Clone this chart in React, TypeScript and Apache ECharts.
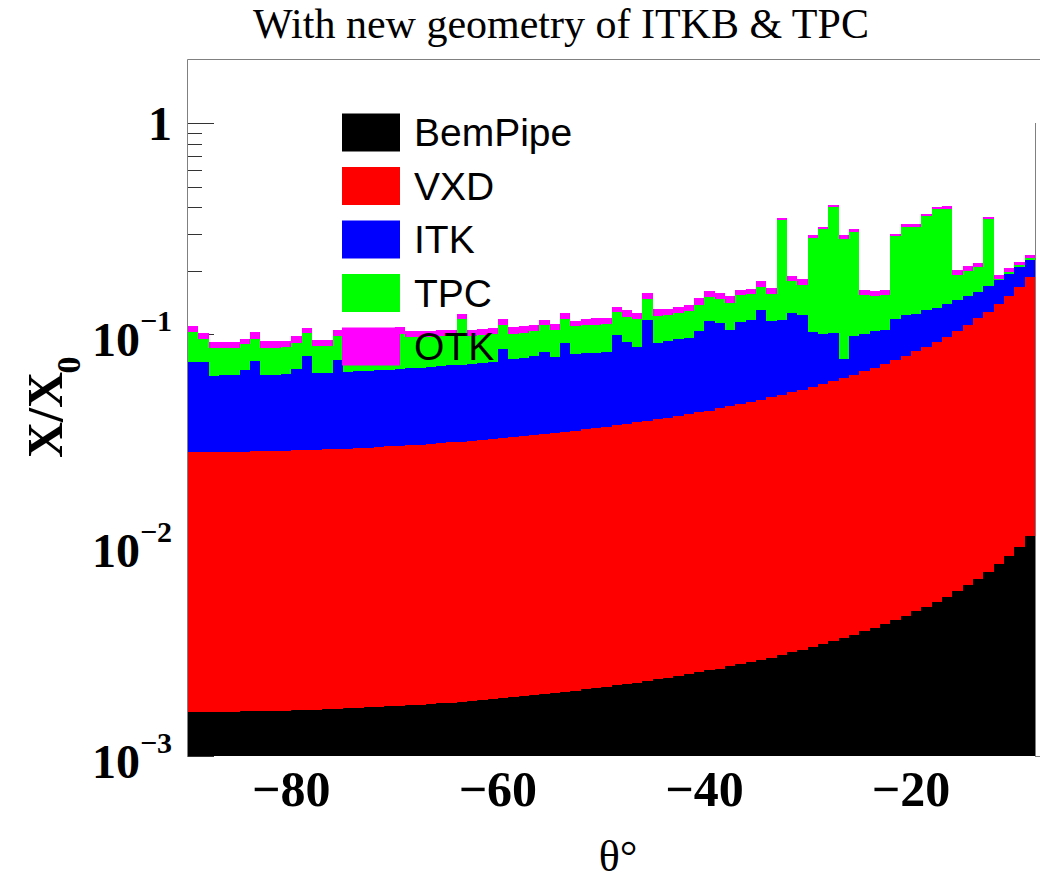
import React, { useEffect, useRef } from 'react';
import * as echarts from 'echarts';

// Histogram bins: lower edges in degrees (bin width 1 degree)
const binLow = [
  -90, -89, -88, -87, -86, -85, -84, -83, -82, -81,
  -80, -79, -78, -77, -76, -75, -74, -73, -72, -71,
  -70, -69, -68, -67, -66, -65, -64, -63, -62, -61,
  -60, -59, -58, -57, -56, -55, -54, -53, -52, -51,
  -50, -49, -48, -47, -46, -45, -44, -43, -42, -41,
  -40, -39, -38, -37, -36, -35, -34, -33, -32, -31,
  -30, -29, -28, -27, -26, -25, -24, -23, -22, -21,
  -20, -19, -18, -17, -16, -15, -14, -13, -12, -11,
  -10, -9,
];
const binWidth = 1;

// Stacked upper edge of each layer (cumulative X/X0)
const beamPipeTop = [
  0.00162, 0.00162, 0.00162, 0.00162, 0.00162, 0.00163, 0.00163, 0.00163, 0.00164, 0.00164,
  0.00165, 0.00165, 0.00166, 0.00167, 0.00167, 0.00168, 0.00169, 0.0017, 0.00171, 0.00172,
  0.00173, 0.00174, 0.00175, 0.00177, 0.00178, 0.00179, 0.00181, 0.00183, 0.00184, 0.00186,
  0.00188, 0.0019, 0.00192, 0.00194, 0.00197, 0.00199, 0.00202, 0.00204, 0.00207, 0.0021,
  0.00213, 0.00216, 0.0022, 0.00223, 0.00227, 0.00231, 0.00235, 0.0024, 0.00244, 0.00249,
  0.00255, 0.0026, 0.00266, 0.00272, 0.00279, 0.00286, 0.00293, 0.00302, 0.0031, 0.00319,
  0.00329, 0.0034, 0.00351, 0.00363, 0.00376, 0.00391, 0.00406, 0.00423, 0.00442, 0.00463,
  0.00485, 0.00511, 0.00539, 0.0057, 0.00606, 0.00647, 0.00694, 0.00748, 0.00813, 0.00889,
  0.00982, 0.011,
];
const vxdTop = [
  0.0277, 0.0277, 0.0277, 0.0278, 0.0278, 0.0278, 0.0279, 0.0279, 0.028, 0.0281,
  0.0282, 0.0283, 0.0284, 0.0285, 0.0286, 0.0287, 0.0289, 0.029, 0.0292, 0.0294,
  0.0296, 0.0298, 0.03, 0.0302, 0.0304, 0.0307, 0.031, 0.0312, 0.0315, 0.0318,
  0.0321, 0.0325, 0.0328, 0.0332, 0.0336, 0.034, 0.0345, 0.0349, 0.0354, 0.0359,
  0.0364, 0.037, 0.0376, 0.0382, 0.0388, 0.0395, 0.0402, 0.041, 0.0418, 0.0427,
  0.0435, 0.0445, 0.0455, 0.0466, 0.0477, 0.0489, 0.0502, 0.0516, 0.053, 0.0546,
  0.0563, 0.0581, 0.06, 0.0621, 0.0643, 0.0668, 0.0695, 0.0724, 0.0756, 0.0791,
  0.083, 0.0873, 0.0921, 0.0975, 0.104, 0.111, 0.119, 0.128, 0.139, 0.152,
  0.168, 0.187,
];
const itkTop = [
  0.0739, 0.0739, 0.0632, 0.0639, 0.0639, 0.0675, 0.0745, 0.0639, 0.0639, 0.0651,
  0.0688, 0.0789, 0.0656, 0.0656, 0.0759, 0.0663, 0.0668, 0.0671, 0.0675, 0.0679,
  0.0683, 0.069, 0.0695, 0.07, 0.0708, 0.0713, 0.0718, 0.0726, 0.0731, 0.0737,
  0.0855, 0.0767, 0.0776, 0.0787, 0.0824, 0.0781, 0.0909, 0.081, 0.0815, 0.0819,
  0.0824, 0.0989, 0.0919, 0.0874, 0.1175, 0.0911, 0.0929, 0.0947, 0.0965, 0.1041,
  0.1155, 0.1131, 0.1045, 0.1144, 0.1165, 0.1299, 0.1155, 0.1175, 0.1264, 0.123,
  0.1025, 0.1, 0.1016, 0.0761, 0.0982, 0.1008, 0.1033, 0.1053, 0.1187, 0.123,
  0.1253, 0.1299, 0.1338, 0.1398, 0.1449, 0.1514, 0.1587, 0.1694, 0.1803, 0.194,
  0.2084, 0.2242,
];
const tpcTop = [
  0.1025, 0.0954, 0.0861, 0.0861, 0.0861, 0.0897, 0.0954, 0.0865, 0.0865, 0.0871,
  0.0909, 0.1014, 0.0877, 0.0877, 0.0986, 0.0926, 0.0937, 0.0947, 0.0916, 0.0947,
  0.1, 0.0968, 0.0968, 0.0973, 0.0978, 0.0984, 0.1182, 0.0982, 0.0992, 0.1,
  0.1112, 0.1008, 0.1019, 0.1033, 0.1103, 0.1053, 0.1178, 0.1091, 0.1103, 0.1112,
  0.1115, 0.1276, 0.1208, 0.1187, 0.1476, 0.1221, 0.124, 0.1267, 0.1295, 0.1383,
  0.1502, 0.1476, 0.1407, 0.1531, 0.1552, 0.1676, 0.1547, 0.347, 0.1783, 0.172,
  0.2873, 0.3145, 0.4012, 0.2842, 0.3054, 0.1531, 0.1514, 0.1542, 0.2914, 0.3225,
  0.3225, 0.3625, 0.3912, 0.3942, 0.1918, 0.1995, 0.2084, 0.3535, 0.1837, 0.1974,
  0.2123, 0.2299,
];
const otkTop = [
  0.1091, 0.1014, 0.0919, 0.0919, 0.0919, 0.0954, 0.1022, 0.0926, 0.0926, 0.0926,
  0.0978, 0.1076, 0.0937, 0.0944, 0.1053, 0.0989, 0.1, 0.1011, 0.0978, 0.1011,
  0.1079, 0.1033, 0.1033, 0.1039, 0.1045, 0.105, 0.1253, 0.1045, 0.1056, 0.1068,
  0.1178, 0.1083, 0.1091, 0.1103, 0.1165, 0.1124, 0.1262, 0.1156, 0.1187, 0.1195,
  0.12, 0.1347, 0.1299, 0.1262, 0.1576, 0.1314, 0.1324, 0.1353, 0.1383, 0.1486,
  0.1604, 0.1576, 0.1514, 0.1622, 0.1647, 0.1783, 0.1657, 0.3573, 0.1883, 0.1822,
  0.2946, 0.3225, 0.4118, 0.2946, 0.3169, 0.1616, 0.1599, 0.1616, 0.3001, 0.3322,
  0.3322, 0.3704, 0.4012, 0.4043, 0.2011, 0.21, 0.2177, 0.3597, 0.1918, 0.2062,
  0.2201, 0.2386,
];

const layerNames = ['BemPipe', 'VXD', 'ITK', 'TPC', 'OTK'];
const layerColors = ['#000000', '#ff0000', '#0000ff', '#00ff00', '#ff00ff'];

const xLabelValues = [-80, -60, -40, -20];
const majorTicks = [0.001, 0.01, 0.1, 1];
const minorTicks = [
  0.002, 0.003, 0.004, 0.005, 0.006, 0.007, 0.008, 0.009,
  0.02, 0.03, 0.04, 0.05, 0.06, 0.07, 0.08, 0.09,
  0.2, 0.3, 0.4, 0.5, 0.6, 0.7, 0.8, 0.9,
];

const X_MIN = -90;
const X_MAX = -8;
const Y_MIN = 0.001;
const Y_MAX = 2;

const SERIF = '"Liberation Serif", "Times New Roman", serif';
const SANS = '"Liberation Sans", Arial, Helvetica, sans-serif';

export default function App() {
  const ref = useRef<HTMLDivElement>(null);

  useEffect(() => {
    if (!ref.current) return;
    const chart = echarts.init(ref.current, null, { renderer: 'svg' });

    const tops = [beamPipeTop, vxdTop, itkTop, tpcTop, otkTop];

    const histSeries = layerNames.map((name, k) => {
      const top = tops[k];
      const bottom = k === 0 ? null : tops[k - 1];
      const color = layerColors[k];
      return {
        name,
        type: 'custom',
        z: 2,
        silent: true,
        itemStyle: { color },
        encode: { x: [0, 1], y: [2, 3] },
        data: binLow.map((x, i) => [x, x + binWidth, bottom ? bottom[i] : Y_MIN, top[i]]),
        renderItem: (params: any, api: any) => {
          const a = api.coord([api.value(0), api.value(3)]);
          const b = api.coord([api.value(1), api.value(2)]);
          const x0 = Math.round(a[0]);
          const x1 = Math.round(b[0]);
          const y0 = Math.round(a[1]);
          const y1 = Math.round(b[1]);
          return {
            type: 'rect',
            shape: { x: x0, y: y0, width: x1 - x0, height: Math.max(0, y1 - y0) },
            style: { fill: color },
          };
        },
      };
    });

    const tickData = [
      ...majorTicks.map((v) => [v, 26]),
      ...minorTicks.map((v) => [v, 14]),
    ];

    const tickSeries = {
      name: 'ticks',
      type: 'custom',
      z: 1,
      silent: true,
      encode: { y: 0 },
      data: tickData,
      renderItem: (params: any, api: any) => {
        const p = api.coord([X_MIN, api.value(0)]);
        const y = Math.round(p[1]) + 0.5;
        return {
          type: 'line',
          shape: { x1: p[0], y1: y, x2: p[0] + api.value(1), y2: y },
          style: { stroke: '#333333', lineWidth: 1 },
        };
      },
    };

    const option: any = {
      animation: false,
      backgroundColor: '#ffffff',
      grid: { left: 188, top: 60, right: 5, bottom: 124, containLabel: false },
      legend: {
        data: layerNames,
        orient: 'vertical',
        left: 342,
        top: 113,
        padding: 0,
        itemWidth: 58,
        itemHeight: 38,
        itemGap: 14.5,
        icon: 'rect',
        selectedMode: false,
        textStyle: {
          fontFamily: SANS,
          fontSize: 39,
          color: '#000000',
          padding: [0, 0, 0, 9],
        },
      },
      xAxis: {
        type: 'value',
        min: X_MIN,
        max: X_MAX,
        axisLine: { show: false },
        axisTick: { show: false },
        splitLine: { show: false },
        axisLabel: {
          customValues: xLabelValues,
          formatter: (v: number) => String(v).replace('-', '\u2212'),
          fontFamily: SERIF,
          fontWeight: 'bold',
          fontSize: 50,
          color: '#000000',
          margin: 8,
        },
      },
      yAxis: {
        type: 'log',
        logBase: 10,
        min: Y_MIN,
        max: Y_MAX,
        axisLine: { show: false },
        axisTick: { show: false },
        splitLine: { show: false },
        minorTick: { show: false },
        axisLabel: {
          showMaxLabel: false,
          margin: 16,
          color: '#000000',
          formatter: (v: number) => {
            const e = Math.round(Math.log10(v));
            if (e === 0) return '{one|1}';
            return '{b|10}{s|\u2212' + -e + '}';
          },
          rich: {
            one: { fontFamily: SERIF, fontWeight: 'bold', fontSize: 48, color: '#000' },
            b: { fontFamily: SERIF, fontWeight: 'bold', fontSize: 48, color: '#000', padding: [10, 0, 0, 0] },
            s: { fontFamily: SERIF, fontWeight: 'bold', fontSize: 30, color: '#000', verticalAlign: 'top' },
          },
        },
      },
      graphic: [
        {
          type: 'text',
          x: 561,
          y: 24,
          z: 10,
          style: {
            text: 'With new geometry of ITKB & TPC',
            font: '42px ' + SERIF,
            fill: '#000000',
            align: 'center',
            verticalAlign: 'middle',
          },
        },
        {
          type: 'text',
          x: 618,
          y: 856,
          z: 10,
          style: {
            text: '\u03b8\u00b0',
            font: '44px ' + SERIF,
            fill: '#000000',
            align: 'center',
            verticalAlign: 'middle',
          },
        },
        {
          type: 'text',
          x: 45,
          y: 415,
          rotation: Math.PI / 2,
          z: 10,
          style: {
            text: 'X/X',
            font: 'bold 50px ' + SERIF,
            fill: '#000000',
            align: 'center',
            verticalAlign: 'middle',
          },
        },
        {
          type: 'text',
          x: 68,
          y: 365,
          rotation: Math.PI / 2,
          z: 10,
          style: {
            text: '0',
            font: 'bold 34px ' + SERIF,
            fill: '#000000',
            align: 'center',
            verticalAlign: 'middle',
          },
        },
        {
          type: 'line',
          z: 10,
          shape: { x1: 187.5, y1: 59.5, x2: 187.5, y2: 757 },
          style: { stroke: '#808080', lineWidth: 1 },
        },
        {
          type: 'line',
          z: 10,
          shape: { x1: 187.5, y1: 59.5, x2: 1040, y2: 59.5 },
          style: { stroke: '#808080', lineWidth: 1 },
        },
        {
          type: 'line',
          z: 10,
          shape: { x1: 1035.5, y1: 123, x2: 1035.5, y2: 757 },
          style: { stroke: '#808080', lineWidth: 1 },
        },
        {
          type: 'line',
          z: 10,
          shape: { x1: 1035, y1: 756.5, x2: 1040, y2: 756.5 },
          style: { stroke: '#808080', lineWidth: 1 },
        },
      ],
      series: [tickSeries, ...histSeries],
    };

    chart.setOption(option);
    return () => {
      chart.dispose();
    };
  }, []);

  return (
    <div
      ref={ref}
      style={{ position: 'absolute', left: 0, top: 0, width: 1040, height: 880, background: '#ffffff' }}
    />
  );
}
